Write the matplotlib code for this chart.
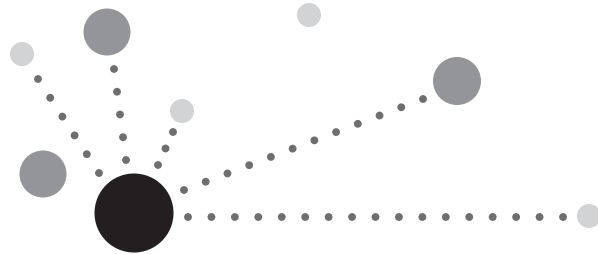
import numpy as np
import matplotlib
matplotlib.use('Agg')
from matplotlib import pyplot as plt
from matplotlib.patches import Circle

# Hub and satellite bubbles (pixel-like units, y grows downward)
node_x = [134, 107, 22, 43, 182, 309, 457, 589]
node_y = [213, 32, 54, 174, 111, 15, 81, 216]
node_r = [39.5, 23.5, 12, 23.5, 12, 12, 24, 12]
node_color = ['#231f20', '#939598', '#d1d3d4', '#939598',
              '#d1d3d4', '#d1d3d4', '#939598', '#d1d3d4']

# Dotted links from the hub: first dot, last dot, number of dots
link_start_x = [188, 184, 158, 126, 99]
link_start_y = [217, 190, 165, 160, 173]
link_end_x = [563, 423, 173, 114, 38]
link_end_y = [217, 99, 132, 69, 79]
link_dots = [17, 12, 3, 5, 6]

dotColor = '#6d6e71'

fig = plt.figure(figsize=(5.98, 2.54), dpi=100)
ax = fig.add_axes([0, 0, 1, 1])
ax.set_xlim(0, 598)
ax.set_ylim(254, 0)
ax.set_aspect('equal')
ax.axis('off')

# Dots first so the bubbles sit on top
for sx, sy, ex, ey, n in zip(link_start_x, link_start_y, link_end_x, link_end_y, link_dots):
    for t in np.linspace(0, 1, n):
        ax.add_patch(Circle((sx + (ex - sx) * t, sy + (ey - sy) * t), 3.9,
                            color=dotColor, lw=0, zorder=1))

for x, y, r, c in zip(node_x, node_y, node_r, node_color):
    ax.add_patch(Circle((x, y), r, color=c, lw=0, zorder=2))

fig.savefig('out.png', dpi=100, facecolor='white')
